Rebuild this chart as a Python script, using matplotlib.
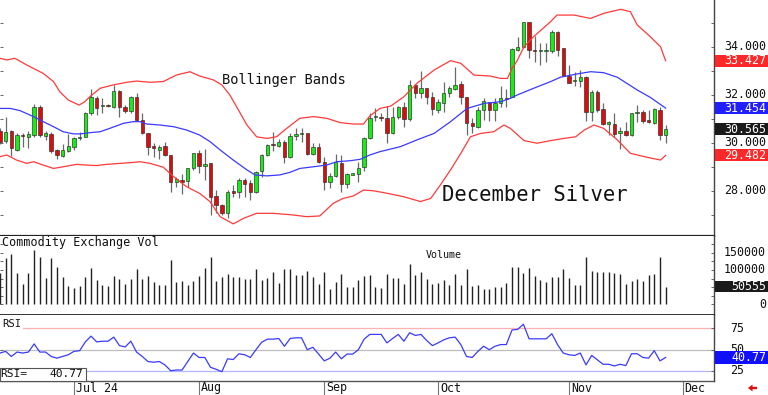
import matplotlib
matplotlib.use('Agg')
import matplotlib.pyplot as plt
from matplotlib.patches import Rectangle, Polygon
from matplotlib.transforms import blended_transform_factory

# ---------------- data ----------------
opens = [30.50, 30.10, 30.51, 29.71, 30.33, 30.26, 30.33, 31.51, 30.31, 30.36,
         29.71, 29.47, 29.68, 29.85, 30.21, 30.26, 31.26, 31.89, 31.53, 31.56,
         31.51, 32.17, 31.51, 31.33, 31.93, 30.96, 30.43, 29.85, 29.72, 29.88,
         29.50, 28.39, 28.46, 28.42, 28.94, 29.60, 29.06, 29.15, 27.79, 27.42,
         27.07, 28.00, 27.97, 28.46, 28.32, 27.97, 28.83, 29.50, 29.94, 29.89,
         30.06, 29.40, 30.31, 30.36, 30.40, 29.54, 29.85, 29.22, 28.39, 28.63,
         29.15, 28.28, 28.68, 28.71, 29.01, 30.19, 31.07, 31.07, 31.03, 30.40,
         31.07, 31.51, 30.99, 32.42, 32.07, 32.28, 31.93, 31.38, 31.68, 32.07,
         32.24, 32.44, 31.93, 30.85, 30.65, 31.38, 31.71, 31.38, 31.68, 31.89,
         31.93, 33.88, 33.99, 35.03, 33.88, 33.83, 33.83, 33.85, 34.61, 33.94,
         32.79, 32.57, 32.58, 32.76, 31.31, 32.14, 31.42, 30.79, 30.79, 30.43,
         30.51, 30.33, 31.24, 31.29, 30.96, 30.85, 31.38, 30.33]
highs = [30.61, 31.10, 30.54, 30.40, 30.40, 30.50, 31.63, 31.58, 30.50, 30.44,
         29.75, 29.96, 30.38, 30.26, 30.47, 31.31, 32.24, 31.96, 31.86, 31.63,
         32.42, 32.21, 31.58, 31.96, 32.07, 31.24, 30.43, 30.01, 29.92, 30.06,
         29.50, 28.60, 28.71, 28.94, 29.60, 29.71, 29.75, 29.18, 28.04, 27.46,
         28.04, 28.25, 28.53, 28.53, 28.46, 28.85, 29.54, 29.96, 30.44, 30.15,
         30.13, 30.40, 30.64, 30.64, 30.43, 30.01, 29.99, 29.43, 28.74, 29.54,
         29.50, 28.74, 28.76, 29.22, 30.26, 31.26, 31.44, 31.24, 31.54, 31.49,
         31.54, 31.72, 32.63, 32.46, 33.01, 32.28, 32.14, 31.82, 32.56, 32.38,
         33.18, 32.60, 31.93, 31.03, 31.51, 31.86, 31.72, 31.86, 32.38, 32.24,
         33.94, 34.43, 35.06, 35.06, 34.47, 34.15, 34.15, 34.71, 34.67, 33.97,
         33.25, 32.97, 33.04, 32.79, 32.21, 32.21, 31.65, 30.93, 31.24, 30.68,
         30.89, 31.26, 31.58, 31.38, 31.38, 31.44, 31.51, 30.75]
lows = [29.96, 29.99, 29.47, 29.68, 29.85, 29.78, 30.26, 30.26, 30.13, 29.57,
        29.32, 29.43, 29.64, 29.71, 30.13, 30.24, 31.17, 31.17, 31.24, 31.49,
        31.44, 31.07, 31.24, 31.24, 30.93, 30.38, 29.50, 29.40, 29.32, 29.46,
        27.97, 28.18, 27.86, 28.18, 28.88, 28.76, 28.46, 27.00, 27.07, 27.00,
        26.86, 27.76, 27.69, 27.76, 27.63, 27.90, 28.60, 29.46, 29.68, 29.85,
        29.18, 29.36, 30.13, 30.06, 29.50, 29.50, 29.15, 28.04, 28.11, 28.60,
        27.97, 28.11, 28.65, 28.39, 28.83, 30.15, 30.93, 30.93, 30.01, 30.38,
        31.00, 30.65, 30.93, 31.86, 31.86, 31.63, 31.17, 31.26, 31.31, 31.93,
        32.21, 31.63, 30.33, 30.43, 30.61, 30.96, 30.93, 30.93, 31.51, 31.49,
        31.90, 33.85, 33.94, 33.53, 33.39, 33.25, 33.36, 33.76, 33.63, 32.79,
        32.49, 32.38, 32.35, 30.93, 30.93, 31.31, 30.75, 30.33, 30.26, 29.74,
        30.29, 30.31, 30.89, 30.85, 30.82, 30.79, 30.13, 30.01]
closes = [30.06, 30.47, 29.78, 30.33, 30.28, 30.36, 31.51, 30.33, 30.40, 29.68,
          29.49, 29.71, 29.88, 30.19, 30.26, 31.24, 31.93, 31.44, 31.56, 31.53,
          32.17, 31.51, 31.33, 31.93, 30.96, 30.43, 29.85, 29.81, 29.85, 29.50,
          28.39, 28.49, 28.39, 28.94, 29.57, 29.06, 29.10, 27.76, 27.42, 27.07,
          27.97, 27.90, 28.46, 28.29, 27.97, 28.81, 29.50, 29.92, 29.90, 30.06,
          29.43, 30.29, 30.36, 30.40, 29.54, 29.85, 29.22, 28.39, 28.63, 29.19,
          28.28, 28.71, 28.74, 28.97, 30.19, 31.06, 31.12, 31.03, 30.40, 31.07,
          31.49, 30.99, 32.42, 32.10, 32.28, 31.93, 31.40, 31.72, 32.10, 32.28,
          32.42, 31.93, 30.82, 30.72, 31.38, 31.76, 31.38, 31.65, 31.89, 31.83,
          33.92, 33.99, 35.03, 33.88, 33.83, 33.88, 33.88, 34.61, 33.88, 32.79,
          32.51, 32.61, 32.76, 31.31, 32.14, 31.38, 30.79, 30.86, 30.38, 30.50,
          30.33, 31.24, 31.31, 30.93, 30.86, 31.40, 30.33, 30.565]
volume = [90000, 135800, 145600, 91700, 59400, 91700, 158300, 137800, 77000, 133800,
          109300, 79000, 52500, 47600, 52500, 79000, 106400, 72100, 57400, 52500,
          81900, 74100, 60300, 74100, 103500, 74100, 81900, 64300, 57400, 57400,
          128000, 64300, 67200, 55400, 67200, 81900, 106400, 138700, 67200, 79000,
          86800, 80000, 80000, 75000, 75000, 101500, 70100, 77000, 93700, 62300,
          103500, 103500, 83900, 83900, 96600, 79000, 60300, 93700, 45600, 64300,
          88800, 49600, 49600, 70100, 81900, 85800, 50500, 47600, 86800, 77000,
          77000, 60300, 118200, 84800, 94600, 75000, 59400, 62300, 70100, 57400,
          88800, 57400, 101500, 54500, 57400, 45600, 45600, 50500, 50500, 62300,
          108400, 108400, 89700, 104400, 81900, 72100, 64300, 79000, 79000, 101500,
          77000, 57400, 57400, 137800, 96600, 93700, 93700, 93700, 91700, 86800,
          60300, 67200, 75000, 69200, 84800, 88800, 137800, 50555]
rsi = [46.0, 48.0, 42.0, 47.2, 46.0, 47.2, 56.8, 47.2, 47.2, 42.0,
       40.0, 42.0, 44.0, 48.0, 48.8, 59.2, 66.0, 59.2, 60.0, 60.0,
       64.8, 54.8, 53.2, 60.0, 47.2, 42.0, 36.0, 35.2, 36.0, 32.0,
       25.2, 26.0, 26.0, 36.0, 46.0, 40.8, 40.8, 29.2, 26.8, 24.0,
       39.2, 38.4, 45.2, 44.0, 40.8, 50.0, 58.8, 62.4, 62.4, 63.2,
       54.0, 63.2, 64.0, 64.0, 50.0, 52.8, 44.8, 36.8, 40.0, 47.2,
       39.2, 44.8, 44.8, 50.0, 62.4, 68.0, 68.0, 68.0, 58.0, 63.2,
       68.0, 60.0, 70.0, 66.8, 68.0, 60.8, 54.8, 58.0, 61.6, 64.0,
       64.8, 56.0, 42.0, 40.8, 48.0, 54.0, 50.0, 54.0, 56.0, 56.0,
       73.2, 74.0, 80.0, 62.8, 62.8, 62.8, 62.8, 68.8, 56.0, 46.0,
       44.0, 43.2, 46.0, 32.0, 43.2, 38.0, 32.8, 32.8, 30.8, 32.8,
       31.2, 45.2, 45.2, 40.8, 40.0, 48.8, 36.8, 40.77]

# Bollinger band lines (bar index, price)
upper_x = [0.0, 1.2, 2.6, 4.7, 7.6, 9.4, 10.5, 12.0, 13.9, 14.9, 15.8, 17.6, 19.9, 22.3,
           24.0, 26.4, 28.7, 31.0, 33.4, 35.1, 37.5, 39.0, 40.4, 41.9, 43.4, 45.1, 46.9,
           48.6, 50.4, 52.7, 55.1, 57.4, 59.8, 62.1, 63.9, 65.0, 66.8, 68.7, 71.0, 73.3,
           76.3, 79.2, 81.0, 83.3, 86.2, 88.0, 89.2, 90.0, 90.9, 92.1, 93.8, 96.8, 97.9,
           100.9, 103.8, 106.1, 109.1, 110.8, 112.0, 114.3, 116.1, 117.0]
upper_y = [33.53, 33.46, 33.53, 33.25, 32.90, 32.56, 32.14, 31.79, 31.58, 31.72, 31.93,
           32.28, 32.42, 32.53, 32.58, 32.53, 32.56, 32.83, 32.97, 32.79, 32.63, 32.42,
           32.00, 31.38, 30.75, 30.26, 30.19, 30.26, 30.61, 31.03, 31.10, 31.03, 30.85,
           30.79, 30.79, 31.13, 31.44, 31.54, 31.93, 32.49, 33.04, 33.43, 33.32, 32.83,
           32.79, 32.69, 32.69, 33.11, 33.43, 34.01, 34.43, 35.06, 35.33, 35.33, 35.19,
           35.40, 35.57, 35.47, 34.92, 34.43, 34.01, 33.427]
mid_x = [0.0, 1.8, 3.5, 5.9, 7.6, 9.4, 11.1, 12.9, 14.1, 15.8, 17.6, 19.3, 21.7, 23.4,
         24.6, 25.8, 28.1, 30.5, 32.8, 35.1, 36.9, 38.7, 41.0, 43.4, 44.8, 46.9, 49.2,
         51.0, 52.7, 55.1, 57.4, 59.2, 61.5, 63.3, 65.0, 66.8, 70.4, 73.3, 76.3, 79.2,
         82.1, 85.1, 88.0, 89.7, 90.9, 93.8, 96.8, 98.5, 101.5, 103.8, 106.1, 108.5,
         112.0, 114.3, 117.0]
mid_y = [31.44, 31.44, 31.35, 31.10, 30.89, 30.68, 30.47, 30.38, 30.38, 30.43, 30.47,
         30.61, 30.82, 30.89, 30.89, 30.79, 30.75, 30.68, 30.54, 30.33, 30.06, 29.71,
         29.29, 28.88, 28.67, 28.63, 28.67, 28.78, 28.94, 29.01, 29.08, 29.22, 29.26,
         29.32, 29.50, 29.64, 29.85, 30.13, 30.40, 30.89, 31.44, 31.65, 31.72, 31.86,
         32.00, 32.28, 32.56, 32.74, 32.88, 32.97, 32.93, 32.74, 32.21, 31.90, 31.454]
lower_x = [0.0, 1.2, 2.9, 4.7, 5.9, 7.6, 9.4, 11.1, 13.5, 15.2, 17.0, 18.7, 21.1, 23.4,
           24.6, 26.4, 28.7, 30.5, 32.8, 35.1, 36.9, 38.7, 41.0, 42.8, 45.1, 48.0, 51.6,
           53.9, 56.2, 58.6, 60.3, 62.1, 63.9, 65.6, 67.5, 71.0, 73.9, 75.7, 77.4, 79.2,
           81.0, 82.7, 84.5, 86.8, 88.6, 89.7, 92.1, 94.4, 96.8, 99.1, 101.2, 102.7,
           104.4, 106.1, 108.5, 110.8, 113.8, 116.1, 117.0]
lower_y = [29.43, 29.50, 29.29, 29.15, 29.22, 29.08, 28.94, 29.01, 29.11, 29.08, 29.06,
           29.11, 29.15, 29.19, 29.22, 29.15, 28.99, 28.60, 28.18, 27.90, 27.56, 26.93,
           26.63, 26.86, 27.07, 27.07, 27.00, 26.93, 26.96, 27.49, 27.69, 27.79, 28.04,
           28.01, 27.93, 27.76, 27.56, 27.69, 28.25, 28.88, 29.57, 30.26, 30.40, 30.47,
           30.75, 30.61, 30.10, 29.99, 30.10, 30.19, 30.26, 30.54, 30.75, 30.61, 30.13,
           29.57, 29.40, 29.29, 29.482]

month_pos = [13, 35, 57, 77, 100, 120]
month_labels = ['Jul 24', 'Aug', 'Sep', 'Oct', 'Nov', 'Dec']
price_ticks = [28, 30, 32, 34]
price_tick_labels = ['28.000', '30.000', '32.000', '34.000']
vol_ticks = [0, 100000, 150000]
vol_tick_labels = ['0', '100000', '150000']
rsi_ticks = [25, 50, 75]
last_upper, last_mid, last_close, last_lower = 33.427, 31.454, 30.565, 29.482
last_volume = 50555
last_rsi = 40.77

# ---------------- figure ----------------
W, H = 768, 395
MONO = 'DejaVu Sans Mono'
fig = plt.figure(figsize=(W / 100, H / 100), dpi=100)
fig.patch.set_facecolor('white')


def rect(x0, y0, x1, y1):
    return [x0 / W, 1 - y1 / H, (x1 - x0) / W, (y1 - y0) / H]


ax1 = fig.add_axes(rect(0, 0, 714, 236))
ax2 = fig.add_axes(rect(0, 236, 714, 315))
ax3 = fig.add_axes(rect(0, 315, 714, 380.7))

n = len(closes)
XR = (0, 125.5)
for ax in (ax1, ax2, ax3):
    ax.set_xlim(*XR)
    ax.set_facecolor('white')
    for s in ('top', 'left'):
        ax.spines[s].set_visible(False)
    ax.spines['right'].set_color('#444444')
    ax.spines['right'].set_linewidth(1.0)
    ax.tick_params(axis='y', left=True, right=True, direction='in', length=2.5,
                   width=0.7, color='#666666', labelleft=False, labelright=False)

ax1.spines['bottom'].set_color('#222222')
ax1.spines['bottom'].set_linewidth(1.6)
ax2.spines['bottom'].set_color('#222222')
ax2.spines['bottom'].set_linewidth(1.3)
ax3.spines['bottom'].set_color('#555555')
ax3.spines['bottom'].set_linewidth(1.0)

ax1.set_ylim(26.125, 35.958)
ax2.set_ylim(-30900, 198500)
ax3.set_ylim(13.4, 90.9)
ax1.set_yticks(range(27, 36))
ax2.set_yticks(range(0, 200000, 25000))
ax3.set_yticks(rsi_ticks)
ax1.set_xticks([])
ax2.set_xticks([])
ax3.set_xticks(month_pos)
ax3.set_xticklabels([])
ax3.tick_params(axis='x', direction='out', length=10.5, width=0.8, color='#777777')

# ---------- candles ----------
GREEN, RED = '#14ee14', '#dd0c0c'
for i in range(n):
    o, h, l, c = opens[i], highs[i], lows[i], closes[i]
    ax1.vlines(i, l, h, color='#6a6a6a', lw=0.9, zorder=2)
    col = GREEN if c >= o else RED
    bot = min(o, c)
    ht = max(abs(c - o), 0.06)
    ax1.add_patch(Rectangle((i - 0.3, bot), 0.6, ht, facecolor=col,
                            edgecolor='#2a2a2a', lw=0.45, zorder=3))

ax1.plot(upper_x, upper_y, color='#ff3a3a', lw=0.9, zorder=4)
ax1.plot(lower_x, lower_y, color='#ff3a3a', lw=0.9, zorder=4)
ax1.plot(mid_x, mid_y, color='#3a3aff', lw=0.9, zorder=4)

fig.text(222 / W, 1 - 80 / H, 'Bollinger Bands', family=MONO, size=9.9,
         ha='left', va='center', color='#111111')
fig.text(442 / W, 1 - 195 / H, 'December Silver', family=MONO, size=14.8,
         ha='left', va='center', color='#111111')

# ---------- volume ----------
ax2.vlines(range(n), 0, volume, color='#222222', lw=1.0)
fig.text(2 / W, 1 - 243 / H, 'Commodity Exchange Vol', family=MONO, size=8.5,
         ha='left', va='center', color='#111111')
fig.text(426 / W, 1 - 255 / H, 'Volume', family=MONO, size=7.2,
         ha='left', va='center', color='#111111')

# ---------- RSI ----------
ax3.axhline(75, color='#ffb0b0', lw=0.9, zorder=1)
ax3.axhline(50, color='#bdbdbd', lw=0.9, zorder=1)
ax3.axhline(25, color='#b4b4ff', lw=0.9, zorder=1)
ax3.plot(range(n), rsi, color='#3a3aff', lw=0.9, zorder=3)
ax3.text(0.003, 1 - 8.7 / 65.7, 'RSI', transform=ax3.transAxes, family=MONO,
         size=7.6, ha='left', va='center', color='#111111', zorder=5,
         bbox=dict(facecolor='white', edgecolor='none', pad=1.2))
fig.add_artist(Rectangle((0.0, 1 - 380.5 / H), 86 / W, 12.8 / H,
                         transform=fig.transFigure, facecolor='white',
                         edgecolor='#555555', lw=0.8, zorder=6))
fig.text(0.5 / W, 1 - 374 / H, 'RSI=', family=MONO, size=8.1, ha='left',
         va='center', color='#111111', zorder=7)
fig.text(83 / W, 1 - 374 / H, f'{last_rsi:.2f}', family=MONO, size=8.1, ha='right',
         va='center', color='#111111', zorder=7)

# ---------- date labels ----------
bt = blended_transform_factory(ax3.transData, fig.transFigure)
for p, lab in zip(month_pos, month_labels):
    fig.text(p + 0.35, 1 - 388 / H, lab, transform=bt, family=MONO, size=8.4,
             ha='left', va='center', color='#111111')


# ---------- right labels ----------
def ypix(ax, v):
    return ax.transData.transform((0, v))[1]


def right_label(ax, v, text, color='#111111', x=766):
    fig.text(x / W, ypix(ax, v) / H, text, family=MONO, size=8.4, ha='right',
             va='center', color=color, zorder=8)


def box_label(ax, v, text, fc, h=12):
    yc = ypix(ax, v)
    fig.add_artist(Rectangle((714.5 / W, (yc - h / 2) / H), 53.5 / W, h / H,
                             transform=fig.transFigure, facecolor=fc,
                             edgecolor='none', zorder=9))
    fig.text(766 / W, yc / H, text, family=MONO, size=8.4, ha='right',
             va='center', color='white', zorder=10)


for v, lab in zip(price_ticks, price_tick_labels):
    right_label(ax1, v, lab)
box_label(ax1, last_upper, f'{last_upper:.3f}', '#ff2828')
box_label(ax1, last_mid, f'{last_mid:.3f}', '#2020ff')
box_label(ax1, last_close, f'{last_close:.3f}', '#1a1a1a')
box_label(ax1, last_lower, f'{last_lower:.3f}', '#ff2828')

for v, lab in zip(vol_ticks, vol_tick_labels):
    right_label(ax2, v, lab)
box_label(ax2, last_volume, f'{last_volume}', '#1a1a1a', h=11)

for v in rsi_ticks:
    fig.text(730 / W, ypix(ax3, v) / H, str(v), family=MONO, size=8.4, ha='left',
             va='center', color='#111111', zorder=8)
box_label(ax3, last_rsi, f'{last_rsi:.2f}', '#1010ff', h=13)

# small red arrow bottom right
arrow = [(748, 388), (752.5, 384.5), (752.5, 386.8), (757, 386.8), (757, 389.2),
         (752.5, 389.2), (752.5, 391.5)]
fig.add_artist(Polygon([(x / W, 1 - y / H) for x, y in arrow], closed=True,
                       transform=fig.transFigure, facecolor='#e01010',
                       edgecolor='none', zorder=10))

fig.savefig('out.png', dpi=100, facecolor='white')
